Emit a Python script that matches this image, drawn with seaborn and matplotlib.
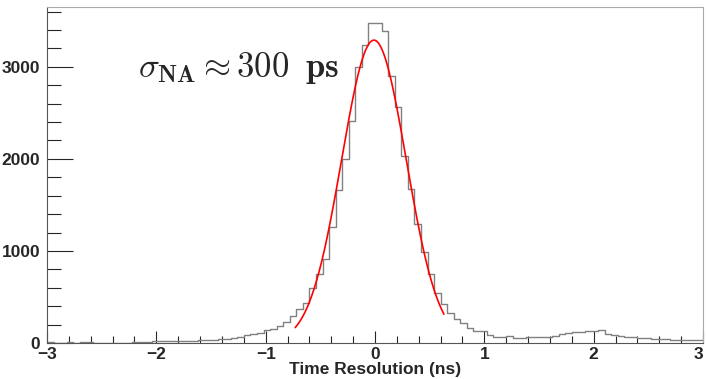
import numpy as np
import pandas as pd
import matplotlib
matplotlib.use("Agg")
import matplotlib.pyplot as plt
from matplotlib.ticker import MultipleLocator
from matplotlib.transforms import ScaledTranslation
import seaborn as sns

# histogram: 100 bins from -3 to 3 ns
bin_lo, bin_hi, n_bins = -3.0, 3.0, 100
counts = [
    8, 5, 4, 6, 5, 7, 6, 5, 4, 5,
    3, 2, 3, 8, 15, 16, 18, 20, 21, 22,
    22, 24, 25, 30, 33, 35, 40, 45, 58, 65,
    84, 95, 110, 145, 150, 185, 225, 293, 370, 431,
    601, 750, 910, 1258, 1665, 1997, 2413, 2997, 3239, 3475,
    3475, 3386, 2902, 2569, 2036, 1668, 1293, 986, 750, 540,
    420, 323, 258, 214, 158, 127, 125, 87, 70, 68,
    76, 52, 50, 68, 70, 62, 63, 80, 100, 105,
    120, 123, 125, 130, 136, 100, 88, 80, 70, 68,
    52, 50, 45, 42, 44, 33, 32, 33, 30, 31,
]

# gaussian fit
fit_amp, fit_mean, fit_sigma = 3290.0, -0.01, 0.295
fit_lo, fit_hi = -0.73, 0.63

sns.set_style("ticks")
plt.rcParams["font.family"] = ["Liberation Sans", "DejaVu Sans"]
plt.rcParams["mathtext.fontset"] = "cm"

edges = np.linspace(bin_lo, bin_hi, n_bins + 1)
df = pd.DataFrame({"t": 0.5 * (edges[:-1] + edges[1:]), "n": counts})

fig, ax = plt.subplots(figsize=(7.06, 3.79), dpi=100)
fig.subplots_adjust(left=0.0666, right=0.9958, bottom=0.095, top=0.9815)

sns.histplot(data=df, x="t", weights="n", bins=n_bins, binrange=(bin_lo, bin_hi),
             element="step", fill=False, color="#808080", linewidth=1.0, ax=ax)

xf = np.linspace(fit_lo, fit_hi, 300)
yf = fit_amp * np.exp(-0.5 * ((xf - fit_mean) / fit_sigma) ** 2)
sns.lineplot(x=xf, y=yf, color="red", linewidth=1.2, ax=ax)

ax.set_xlim(bin_lo, bin_hi)
ax.set_ylim(0, 3650)

ax.xaxis.set_major_locator(MultipleLocator(1))
ax.xaxis.set_minor_locator(MultipleLocator(0.2))
ax.yaxis.set_major_locator(MultipleLocator(1000))
ax.yaxis.set_minor_locator(MultipleLocator(200))
ax.tick_params(axis="x", which="major", direction="in", length=9, width=0.8, pad=3)
ax.tick_params(axis="x", which="minor", direction="in", length=5, width=0.8)
ax.tick_params(axis="y", which="major", direction="in", length=19, width=0.8, pad=5)
ax.tick_params(axis="y", which="minor", direction="in", length=10, width=0.8)
for lab in ax.get_xticklabels() + ax.get_yticklabels():
    lab.set_fontweight("bold")
    lab.set_fontsize(12.5)

# keep the "3" at the right edge inside the canvas
for lab in ax.get_xticklabels():
    if abs(lab.get_position()[0] - bin_hi) < 1e-6:
        lab.set_transform(lab.get_transform() + ScaledTranslation(-3 / 72, 0, fig.dpi_scale_trans))

for s in ["top", "right"]:
    ax.spines[s].set_visible(True)
    ax.spines[s].set_color("#aaaaaa")
for s in ["left", "bottom"]:
    ax.spines[s].set_color("#555555")

ax.set_ylabel("")
ax.set_xlabel("Time Resolution (ns)", fontsize=12.5, fontweight="bold", labelpad=0)

ax.text(-2.17, 2990, r"$\sigma_{\mathbf{NA}} \approx 300\;\; \mathbf{ps}$",
        fontsize=25, ha="left", va="center")

fig.savefig("out.png", dpi=100)
